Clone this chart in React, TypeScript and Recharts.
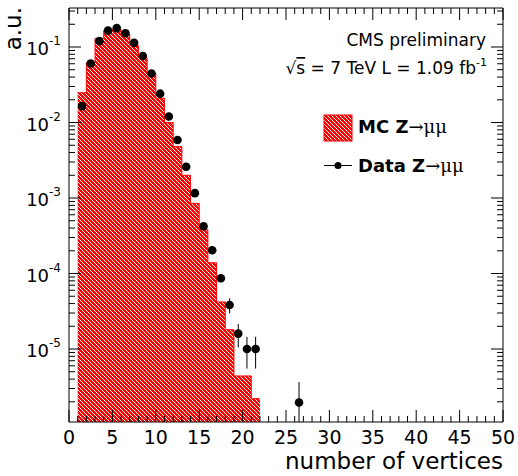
import React from "react";
import {
    Area,
    ComposedChart,
    Customized,
    ErrorBar,
    ReferenceLine,
    Scatter,
    XAxis,
    YAxis,
} from "recharts";

// histogram bin low edges, last value is the upper edge of the final bin
const binEdges = [1, 2, 3, 4, 5, 6, 7, 8, 9, 10, 11, 12, 13, 14, 15, 16, 17, 18, 19, 20, 21, 22];
const mcValues = [
    0.0248, 0.062, 0.13, 0.165, 0.172, 0.147, 0.104, 0.072, 0.045, 0.021, 0.01,
    0.0048, 0.002, 8.5e-4, 3.8e-4, 1.39e-4, 4.2e-5, 1.8e-5, 4.4e-6, 4.4e-6, 2.2e-6,
];

const dataX = [1.5, 2.5, 3.5, 4.5, 5.5, 6.5, 7.5, 8.5, 9.5, 10.5, 11.5, 12.5, 13.5, 14.5, 15.5, 16.5, 17.5, 18.5, 19.5, 20.5, 21.5, 26.5];
const dataY = [
    0.0165, 0.0605, 0.12, 0.165, 0.178, 0.152, 0.114, 0.0759, 0.0446, 0.0241, 0.012,
    0.00588, 0.00259, 0.00116, 4.23e-4, 2.03e-4, 8.65e-5, 3.83e-5, 1.6e-5, 1.0e-5, 1.0e-5, 1.96e-6,
];
const dataErr: (number | number[])[] = [
    1.8e-4, 3.5e-4, 4.9e-4, 5.7e-4, 6.0e-4, 5.5e-4, 4.8e-4, 3.9e-4, 3.0e-4, 2.2e-4, 1.5e-4,
    1.1e-4, 7.2e-5, 4.8e-5, 2.9e-5, 2.0e-5, 1.0e-5, 8.7e-6, 5.5e-6, 4.5e-6, 4.5e-6, [0.88e-6, 1.7e-6],
];

const xTicks = Array.from({length: 51}, (_, i) => i);
const majorExps = [-6, -5, -4, -3, -2, -1];

const Y_MIN = 1.08e-6;
const Y_MAX = 0.3286;

const W = 518;
const H = 476;
const PLOT_LEFT = 69;
const PLOT_RIGHT = 503;
const PLOT_TOP = 8;
const PLOT_BOTTOM = 422;

const FONT = "DejaVu Sans, Verdana, sans-serif";
const SYM = "DejaVu Serif, Liberation Serif, serif";

const yTicks: number[] = [];
majorExps.forEach((e) => {
    for (let m = 1; m <= 9; m++) {
        const v = m * Math.pow(10, e);
        if (v >= Y_MIN && v <= Y_MAX) yTicks.push(v);
    }
});

const mcTable = binEdges.map((x, i) => ({x, mc: mcValues[Math.min(i, mcValues.length - 1)]}));
const dataTable = dataX.map((x, i) => ({x, y: dataY[i], err: dataErr[i]}));

function YTick(props: any) {
    const {x, y, payload} = props;
    const lg = Math.log10(payload.value);
    const exp = Math.round(lg);
    const major = Math.abs(lg - exp) < 1e-6;
    const len = major ? 12 : 6;
    return (
        <g>
            <line x1={x} x2={x + len} y1={y} y2={y} stroke="#000"/>
            <line x1={PLOT_RIGHT - len} x2={PLOT_RIGHT} y1={y} y2={y} stroke="#000"/>
            {major && (
                <text x={x - 8} y={y + 8} textAnchor="end" fontSize={18} fontFamily={FONT} fill="#000">
                    10<tspan dy={-10} fontSize={12}>{exp}</tspan>
                </text>
            )}
        </g>
    );
}

function XTick(props: any) {
    const {x, y, payload} = props;
    const v = payload.value;
    const major = v % 5 === 0;
    const len = major ? 12 : 6;
    return (
        <g>
            <line x1={x} x2={x} y1={y} y2={y - len} stroke="#000"/>
            <line x1={x} x2={x} y1={PLOT_TOP} y2={PLOT_TOP + len} stroke="#000"/>
            {major && (
                <text x={x} y={y + 22} textAnchor="middle" fontSize={19} fontFamily={FONT} fill="#000">
                    {v}
                </text>
            )}
        </g>
    );
}

function DataDot(props: any) {
    return <circle cx={props.cx} cy={props.cy} r={4.3} fill="#000"/>;
}

function Overlay() {
    return (
        <g fontFamily={FONT} fill="#000">
            <defs>
                <pattern id="hatch" patternUnits="userSpaceOnUse" width={4} height={4}>
                    <rect width={4} height={4} fill="#ff0000"/>
                    <path d="M-1,-1 L5,5 M-1,3 L1,5 M3,-1 L5,1" stroke="#fff" strokeWidth={1}/>
                </pattern>
            </defs>
            <text x={21} y={7} fontSize={23} textAnchor="end" transform="rotate(-90 21 7)">a.u.</text>
            <text x={486} y={46} fontSize={17} textAnchor="end">CMS preliminary</text>
            <text x={487} y={74} fontSize={17} textAnchor="end">
                √<tspan textDecoration="overline">s</tspan> = 7 TeV L = 1.09 fb
                <tspan dy={-8} fontSize={11}>-1</tspan>
            </text>
            <rect x={324} y={115} width={28} height={26} fill="url(#hatch)" stroke="#ff0000"/>
            <text x={358} y={133} fontSize={18} fontWeight="bold">
                MC Z<tspan fontFamily={SYM} fontWeight="normal">→μμ</tspan>
            </text>
            <line x1={324} x2={352} y1={165.5} y2={165.5} stroke="#000"/>
            <circle cx={338} cy={165.5} r={3.5} fill="#000"/>
            <text x={358} y={171.5} fontSize={18} fontWeight="bold">
                Data Z<tspan fontFamily={SYM} fontWeight="normal">→μμ</tspan>
            </text>
            <text x={503} y={469} fontSize={23} textAnchor="end">number of vertices</text>
        </g>
    );
}

export default function App() {
    return (
        <div style={{position: "absolute", left: 0, top: 0, width: W, height: H, background: "#fff"}}>
            <ComposedChart
                width={W}
                height={H}
                data={mcTable}
                margin={{top: PLOT_TOP, right: W - PLOT_RIGHT, bottom: 0, left: 0}}
            >
                <XAxis
                    type="number"
                    dataKey="x"
                    domain={[0, 50]}
                    allowDataOverflow
                    ticks={xTicks}
                    interval={0}
                    tick={<XTick/>}
                    tickLine={false}
                    tickSize={0}
                    tickMargin={0}
                    height={H - PLOT_BOTTOM}
                    axisLine={{stroke: "#000"}}
                />
                <YAxis
                    type="number"
                    scale="log"
                    domain={[Y_MIN, Y_MAX]}
                    allowDataOverflow
                    ticks={yTicks}
                    interval={0}
                    tick={<YTick/>}
                    tickLine={false}
                    tickSize={0}
                    tickMargin={0}
                    width={PLOT_LEFT}
                    axisLine={{stroke: "#000"}}
                />
                <Area
                    type="stepAfter"
                    dataKey="mc"
                    baseValue={Y_MIN}
                    stroke="#ff0000"
                    strokeWidth={1}
                    fill="url(#hatch)"
                    fillOpacity={1}
                    isAnimationActive={false}
                />
                <Scatter data={dataTable} dataKey="y" shape={<DataDot/>} fill="#000" isAnimationActive={false}>
                    <ErrorBar dataKey="err" direction="y" width={0} stroke="#000" strokeWidth={1}/>
                </Scatter>
                <ReferenceLine x={50} stroke="#000"/>
                <ReferenceLine y={Y_MAX} stroke="#000"/>
                <Customized component={<Overlay/>}/>
            </ComposedChart>
        </div>
    );
}
